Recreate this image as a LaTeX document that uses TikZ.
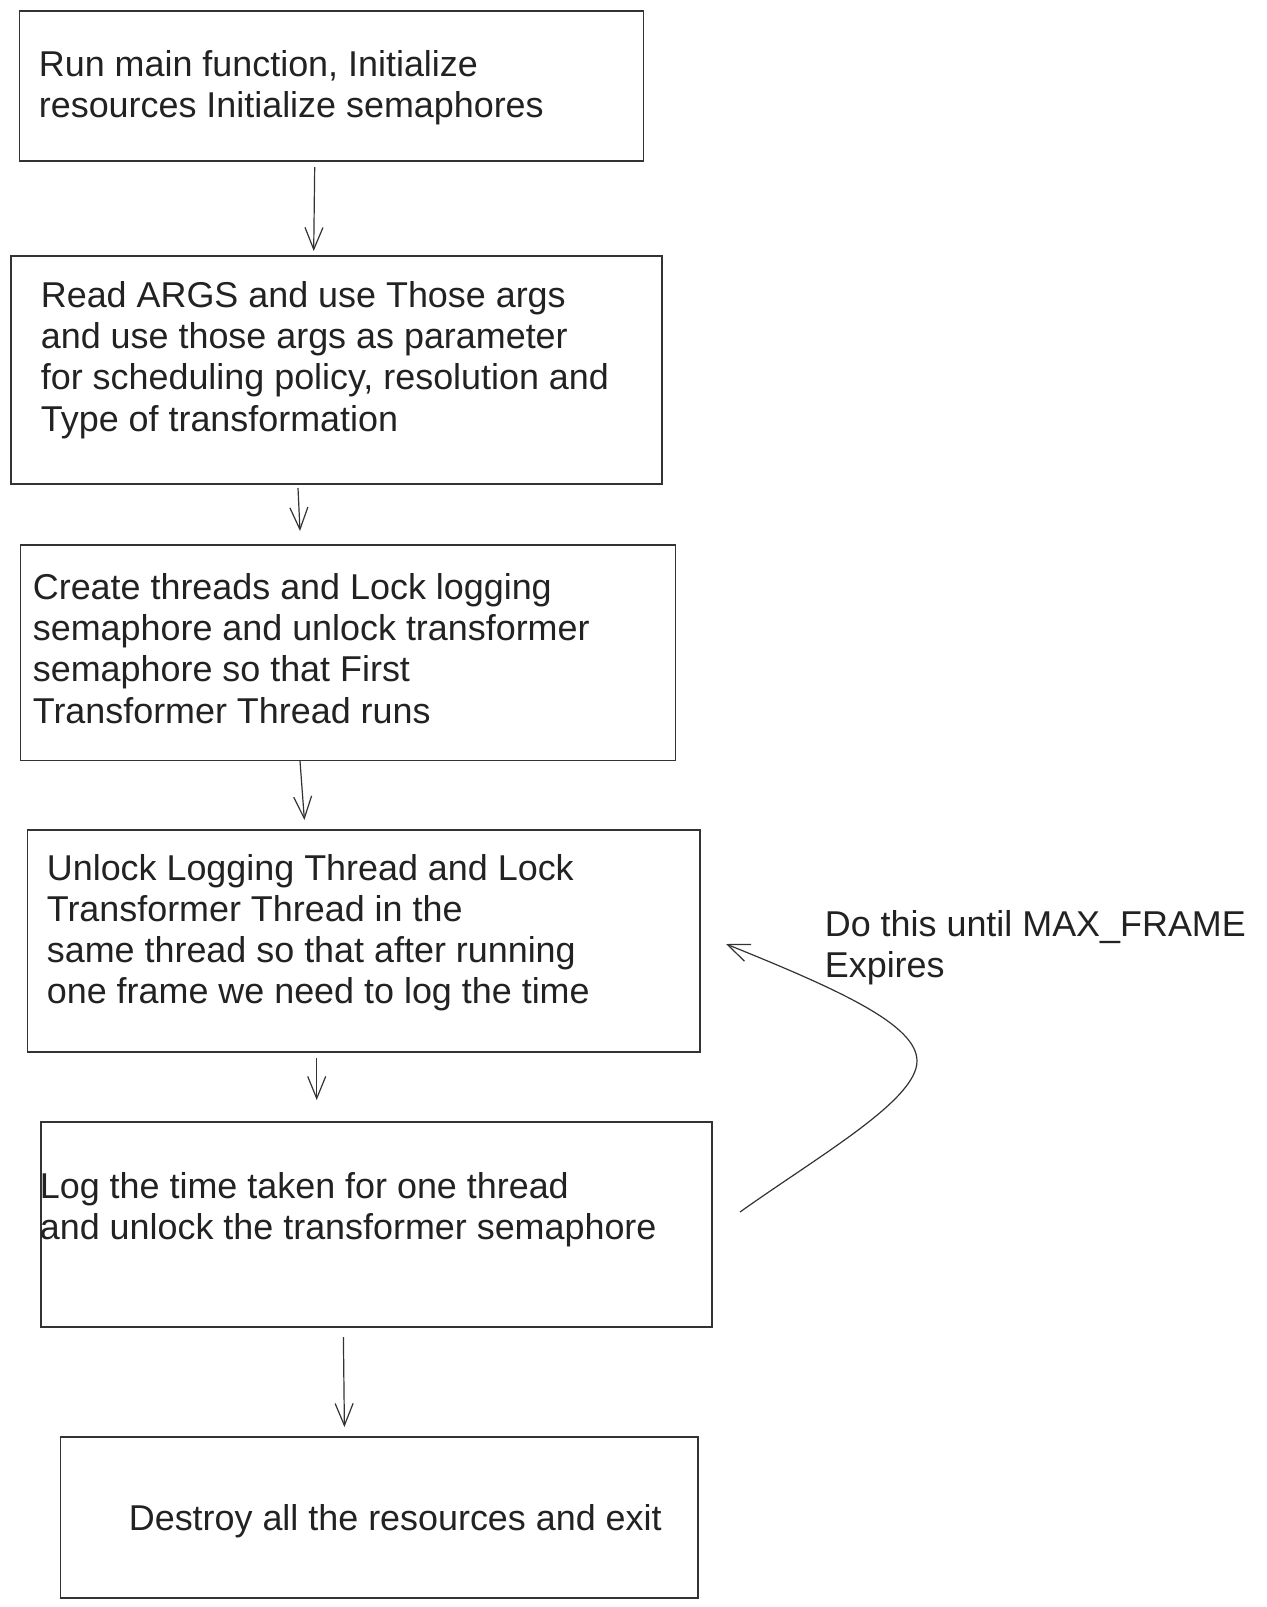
\documentclass[tikz,border=0pt]{standalone}
\usepackage{fontspec}
\setmainfont{Liberation Sans}
\usetikzlibrary{arrows.meta}
\definecolor{ink}{HTML}{222222}
\definecolor{edge}{HTML}{333333}
\begin{document}
\begin{tikzpicture}[x=0.5pt,y=-0.5pt,
  boxstyle/.style={draw=edge,line width=0.75pt,rectangle,inner sep=0pt,anchor=north west},
  txt/.style={text=ink,font=\fontsize{17.95pt}{20.6pt}\selectfont,inner sep=0pt,anchor=base west,align=left},
  arr/.style={draw=edge,line width=0.6pt,-{Straight Barb[length=11pt,width=9pt,line width=0.6pt]}}]
\useasboundingbox (0,0) rectangle (1267,1607);
\fill[white] (0,0) rectangle (1267,1607);
% boxes
\node[boxstyle,minimum width=312.1pt,minimum height=74.85pt] (b1) at (18.5,10.3) {};
\node[boxstyle,minimum width=325.35pt,minimum height=114pt] (b2) at (10.3,255) {};
\node[boxstyle,minimum width=327.5pt,minimum height=107.75pt] (b3) at (19.5,544) {};
\node[boxstyle,minimum width=336.15pt,minimum height=111pt] (b4) at (26.7,829) {};
\node[boxstyle,minimum width=335.5pt,minimum height=102.5pt] (b5) at (40,1121) {};
\node[boxstyle,minimum width=318.75pt,minimum height=80.5pt] (b6) at (59.5,1436) {};
% texts (anchored at the baseline of their last line)
\node[txt] (t1) at (38.5,117.7) {Run main function, Initialize\\resources Initialize semaphores};
\node[txt] (t2) at (40.5,431) {Read ARGS and use Those args\\and use those args as parameter\\for scheduling policy, resolution and\\Type of transformation};
\node[txt] (t3) at (32.5,723) {Create threads and Lock logging\\semaphore and unlock transformer\\semaphore so that First\\Transformer Thread runs};
\node[txt] (t4) at (46.5,1003.8) {Unlock Logging Thread and Lock\\Transformer Thread in the\\same thread so that after running\\one frame we need to log the time};
\node[txt] (t5) at (39.5,1239.3) {Log the time taken for one thread\\and unlock the transformer semaphore};
\node[txt] (t6) at (128.5,1530.5) {Destroy all the resources and exit};
\node[txt] (t7) at (824.5,977.7) {Do this until MAX\_FRAME\\Expires};
% arrow ends
\coordinate (a1s) at (314.7,167);  \coordinate (a1e) at (313.7,251);
\coordinate (a2s) at (298,488);    \coordinate (a2e) at (300,531);
\coordinate (a3s) at (300,761);    \coordinate (a3e) at (304.4,820);
\coordinate (a4s) at (316.7,1058); \coordinate (a4e) at (316.7,1100);
\coordinate (a5s) at (343.4,1337); \coordinate (a5e) at (344.4,1427);
\coordinate (ls) at (740,1212);
\coordinate (lm) at (917,1061);
\coordinate (le) at (726,944);
\draw[arr] (a1s) -- (a1e);
\draw[arr] (a2s) -- (a2e);
\draw[arr] (a3s) -- (a3e);
\draw[arr] (a4s) -- (a4e);
\draw[arr] (a5s) -- (a5e);
\draw[arr] (ls) .. controls (820,1155) and (917,1100) .. (lm)
  .. controls (917,1025) and (840,990) .. (le);
\end{tikzpicture}
\end{document}
